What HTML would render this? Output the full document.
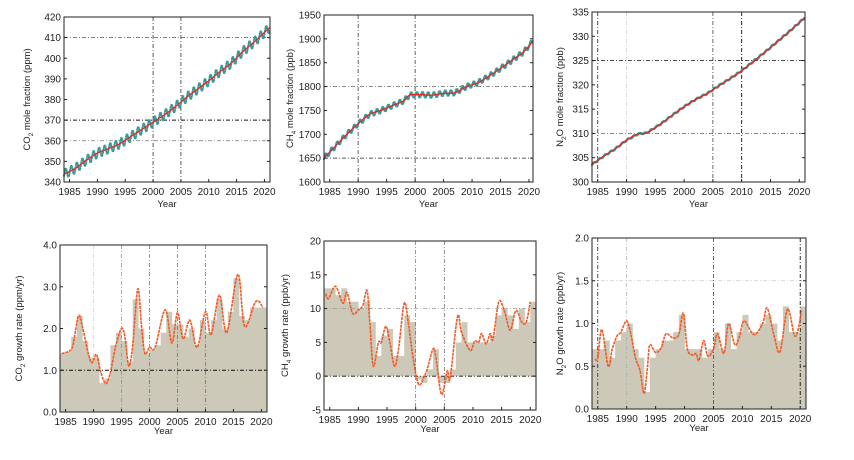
<!DOCTYPE html>
<html><head><meta charset="utf-8"><style>
html,body{margin:0;padding:0;background:#fff;}
svg{display:block;font-family:"Liberation Sans",sans-serif;}
</style></head><body>
<svg id="s" width="854" height="460" viewBox="0 0 854 460" xmlns="http://www.w3.org/2000/svg"></svg>
<script>
var S=document.getElementById('s'),out='';
function cr(pts){
  var d='M'+pts[0][0].toFixed(1)+','+pts[0][1].toFixed(1);
  for(var i=0;i<pts.length-1;i++){
    var p0=pts[i-1]||pts[i],p1=pts[i],p2=pts[i+1],p3=pts[i+2]||p2;
    d+=' C'+(p1[0]+(p2[0]-p0[0])/6).toFixed(1)+','+(p1[1]+(p2[1]-p0[1])/6).toFixed(1)+' '+(p2[0]-(p3[0]-p1[0])/6).toFixed(1)+','+(p2[1]-(p3[1]-p1[1])/6).toFixed(1)+' '+p2[0].toFixed(1)+','+p2[1].toFixed(1);
  }
  return d;
}
function interp(pts,x){for(var i=0;i<pts.length-1;i++){if(x<=pts[i+1][0]){var t=(x-pts[i][0])/(pts[i+1][0]-pts[i][0]);return pts[i][1]+t*(pts[i+1][1]-pts[i][1]);}}return pts[pts.length-1][1];}
function panel(o){
  var L=o.L,R=o.R,T=o.T,B=o.B;
  var X=function(y){return L+(y-1984)*(R-L)/(o.x1-1984);};
  var Y=function(v){return B-(v-o.y0)*(B-T)/(o.y1-o.y0);};
  var g='';
  if(o.bars){o.bars.forEach(function(v,i){var yr=1984+i;var x0=X(yr),x1=X(yr+1);if(x1>R)x1=R;var y=Y(v),z=Y(0);g+='<rect x="'+x0.toFixed(1)+'" y="'+Math.min(y,z).toFixed(1)+'" width="'+(x1-x0+0.3).toFixed(1)+'" height="'+Math.abs(z-y).toFixed(1)+'" fill="#cdc9b8"/>';});}
  o.grid.forEach(function(gr){
    var c=gr[2]||'#222',w=gr[3]||0.8;
    if(gr[0]=='h')g+='<line x1="'+L+'" x2="'+R+'" y1="'+Y(gr[1])+'" y2="'+Y(gr[1])+'" stroke="'+c+'" stroke-width="'+w+'" stroke-dasharray="4 2 1 2"/>';
    else g+='<line y1="'+T+'" y2="'+B+'" x1="'+X(gr[1])+'" x2="'+X(gr[1])+'" stroke="'+c+'" stroke-width="'+w+'" stroke-dasharray="4 2 1 2"/>';
  });
  if(o.trend){
    var tp=o.trend;
    if(o.amp){var pp='';var mk='';
      for(var t=1984;t<=o.x1-0.05;t+=1/12){var v=interp(tp,t)+o.amp*Math.cos(2*Math.PI*(t-0.3));pp+=(pp?'L':'M')+X(t).toFixed(1)+','+Y(v).toFixed(1);mk+='<rect x="'+(X(t)-1).toFixed(1)+'" y="'+(Y(v)-1).toFixed(1)+'" width="2" height="2" fill="#3a9a9a"/>';}
      g+='<path d="'+pp+'" fill="none" stroke="#3a9a9a" stroke-width="1"/>'+mk;}
    g+='<path d="'+cr(tp.map(function(p){return [X(p[0]),Y(p[1])];}))+'" fill="none" stroke="#e8261c" stroke-width="1.3"/>';
  }
  if(o.curve){g+='<path d="'+cr(o.curve.map(function(p){return [X(p[0]),Y(p[1])];}))+'" fill="none" stroke="#f05a28" stroke-width="1.6" stroke-dasharray="3 0.8"/>';}
  g+='<rect x="'+L+'" y="'+T+'" width="'+(R-L)+'" height="'+(B-T)+'" fill="none" stroke="#222" stroke-width="1"/>';
  o.yt.forEach(function(v){var y=Y(v);g+='<line x1="'+L+'" x2="'+(L+3)+'" y1="'+y+'" y2="'+y+'" stroke="#222"/><line x1="'+(R-3)+'" x2="'+R+'" y1="'+y+'" y2="'+y+'" stroke="#222"/><text x="'+(L-3)+'" y="'+(y+3.5)+'" font-size="10" text-anchor="end" fill="#222">'+(o.fmt?o.fmt(v):v)+'</text>';});
  for(var yr=1985;yr<=2020;yr+=5){var x=X(yr);g+='<line x1="'+x+'" x2="'+x+'" y1="'+B+'" y2="'+(B-3)+'" stroke="#222"/><text x="'+x+'" y="'+(B+13)+'" font-size="10" text-anchor="middle" fill="#222">'+yr+'</text>';}
  g+='<text x="'+((L+R)/2)+'" y="'+(B+(o.yo||25))+'" font-size="9.5" text-anchor="middle" fill="#222">Year</text>';
  g+='<text transform="translate('+o.tx+','+((T+B)/2)+') rotate(-90)" font-size="9.5" text-anchor="middle" fill="#222">'+o.title+'</text>';
  out+=g;
}
panel({L:64,R:270,T:17,B:182,x1:2021,y0:340,y1:420,yt:[340,350,360,370,380,390,400,410,420],tx:30,
 title:'CO<tspan font-size="6.5" dy="3">2</tspan><tspan dy="-3"> mole fraction (ppm)</tspan>',
 grid:[['h',410,'#555',0.7],['h',370,'#111',0.9],['h',360,'#777',0.7],['v',2000,'#333',0.8],['v',2005,'#333',0.8]],
 trend:[[1984,343.8],[1986,346.5],[1988,350.5],[1990,354],[1992,356.2],[1994,358.5],[1996,362],[1998,365.5],[2000,369],[2002,372.5],[2004,376.5],[2006,381],[2008,385],[2010,389],[2012,393.5],[2014,397.5],[2016,403],[2018,407.5],[2020,412.5],[2021,415]],amp:2.2});
panel({L:324,R:533,T:15,B:182,x1:2020.7,y0:1600,y1:1950,yt:[1600,1650,1700,1750,1800,1850,1900,1950],tx:293,
 title:'CH<tspan font-size="6.5" dy="3">4</tspan><tspan dy="-3"> mole fraction (ppb)</tspan>',
 grid:[['h',1800,'#444',0.7],['h',1650,'#222',0.8],['v',1990,'#444',0.8],['v',2000,'#333',0.8]],
 trend:[[1984,1650],[1986,1675],[1988,1700],[1990,1722],[1992,1742],[1994,1750],[1996,1760],[1998,1770],[1999,1782],[2001,1783],[2003,1782],[2005,1786],[2007,1787],[2009,1800],[2011,1808],[2013,1822],[2015,1838],[2017,1855],[2019,1872],[2020.7,1895]],amp:5.5});
panel({L:592,R:805,T:12,B:182,x1:2021,y0:300,y1:335,yt:[300,305,310,315,320,325,330,335],tx:563,
 title:'N<tspan font-size="6.5" dy="3">2</tspan><tspan dy="-3">O mole fraction (ppb)</tspan>',
 grid:[['h',325,'#333',0.8],['h',310,'#444',0.7],['v',1985,'#222',0.8],['v',1990,'#ccc',0.7],['v',2005,'#444',0.8],['v',2010,'#111',0.9]],
 trend:[[1984,303.6],[1986,305.3],[1988,306.8],[1990,308.6],[1992,309.9],[1993.5,310.1],[1996,312],[1998,313.8],[2000,315.5],[2002,317],[2004,318.2],[2006,319.8],[2008,321.3],[2010,322.9],[2012,324.8],[2014,326.7],[2016,328.7],[2018,330.7],[2020,332.8],[2021,333.9]],amp:0.15});
panel({L:60,R:267,T:245,B:412,x1:2021,y0:0,y1:4,yt:[0,1,2,3,4],fmt:function(v){return v.toFixed(1);},tx:22,yo:22,
 title:'CO<tspan font-size="6.5" dy="3">2</tspan><tspan dy="-3"> growth rate (ppm/yr)</tspan>',
 grid:[['h',1,'#111',0.9],['v',1990,'#ccc',0.7],['v',1995,'#888',0.7],['v',2000,'#666',0.7],['v',2005,'#666',0.7],['v',2010,'#666',0.7]],
 bars:[1.4,1.45,1.8,2.3,1.7,1.3,1.3,0.7,0.8,1.6,1.9,1.7,1.2,2.7,2.0,1.4,1.5,1.6,1.9,2.4,2.1,2.1,1.8,2.0,1.6,2.2,1.9,2.2,2.7,2.0,2.4,3.2,2.3,2.2,2.5,2.5,2.5],
 curve:[[1984.3,1.4],[1985.5,1.45],[1986.3,1.6],[1987.3,2.3],[1988,2.05],[1989.5,1.2],[1990.5,1.38],[1991.3,0.95],[1992.2,0.68],[1993,0.95],[1994,1.6],[1995,2.0],[1995.6,1.8],[1996.3,1.1],[1997,1.6],[1997.9,2.95],[1998.6,2.0],[1999.2,1.4],[2000,1.55],[2001,1.55],[2002.8,2.45],[2004,1.65],[2005,2.38],[2006,1.75],[2007.2,2.2],[2008.5,1.55],[2010,2.4],[2011,1.85],[2012.5,2.8],[2013.8,1.9],[2015.8,3.3],[2017,2.05],[2019,2.65],[2020.3,2.5]]});
panel({L:324,R:536,T:241,B:410,x1:2021,y0:-5,y1:20,yt:[-5,0,5,10,15,20],tx:288,yo:22,
 title:'CH<tspan font-size="6.5" dy="3">4</tspan><tspan dy="-3"> growth rate (ppb/yr)</tspan>',
 grid:[['h',10,'#999',0.7],['h',0,'#111',0.9],['v',2000,'#666',0.7],['v',2005,'#666',0.7]],
 bars:[13,13,12,13,11,11,10,11,8,3,6,7,3,3,9,8,-0.5,-1,1,4,-1,-1,1,5,8,5,5,5,5,6,9,10,9,7,10,8,11],
 curve:[[1984.3,12.2],[1984.8,11.5],[1986,13.3],[1987.3,10.8],[1988,12.4],[1989,9.3],[1990,9.8],[1990.8,10.5],[1991.5,12.7],[1992,8],[1992.6,1.5],[1993.5,5],[1994,5],[1994.8,7.4],[1995.5,5],[1996.3,1.5],[1997,4],[1998,10.8],[1998.7,8],[1999.5,3],[2000.5,-1.2],[2001.5,0],[2002,1],[2003,4],[2003.5,3],[2004.5,-2.7],[2005.5,0.8],[2006,-0.3],[2007.3,8.8],[2008,6.5],[2009.5,3.8],[2010.3,5.2],[2011,5],[2011.5,6.3],[2012.3,4.8],[2013,6.3],[2013.5,5.5],[2014.5,11],[2015.5,9.6],[2016.5,6.8],[2017.5,9.7],[2018.5,8],[2019.3,8],[2020,11]]});
panel({L:592,R:806,T:238,B:409,x1:2021,y0:0,y1:2,yt:[0,0.5,1,1.5,2],fmt:function(v){return v.toFixed(1);},tx:563,yo:22,
 title:'N<tspan font-size="6.5" dy="3">2</tspan><tspan dy="-3">O growth rate (ppb/yr)</tspan>',
 grid:[['h',1.5,'#ccc',0.7],['h',0.5,'#ccc',0.7],['v',1985,'#222',0.8],['v',1990,'#aaa',0.7],['v',2005,'#444',0.8],['v',2020,'#111',0.9]],
 bars:[0.7,0.7,0.8,0.6,0.8,0.9,1.0,0.7,0.6,0.2,0.6,0.7,0.8,0.8,0.9,1.1,0.7,0.7,0.7,0.6,0.7,0.9,0.7,1.0,0.7,0.9,1.1,0.9,0.9,1.0,1.1,1.0,0.8,1.2,0.9,0.9,1.2],
 curve:[[1984.5,0.58],[1985,0.6],[1985.7,0.93],[1986.8,0.5],[1987.5,0.7],[1988.3,0.85],[1989,0.9],[1990,1.03],[1990.8,0.85],[1991.5,0.6],[1992.3,0.45],[1993,0.18],[1993.6,0.5],[1994,0.75],[1995,0.66],[1996,0.72],[1996.8,0.88],[1998,0.83],[1999,0.87],[1999.8,1.12],[2000.5,0.7],[2001.5,0.63],[2002,0.65],[2002.5,0.57],[2003.3,0.8],[2004,0.62],[2005,0.7],[2005.7,0.88],[2006.8,0.65],[2007.6,1.0],[2008.7,0.75],[2009.5,0.85],[2010.3,1.03],[2012,0.87],[2013.5,1.0],[2014.3,1.18],[2015.5,0.85],[2016.5,0.67],[2017.8,1.17],[2019,0.86],[2019.7,0.95],[2020.2,1.15]]});
S.innerHTML=out;
</script>
</body></html>
